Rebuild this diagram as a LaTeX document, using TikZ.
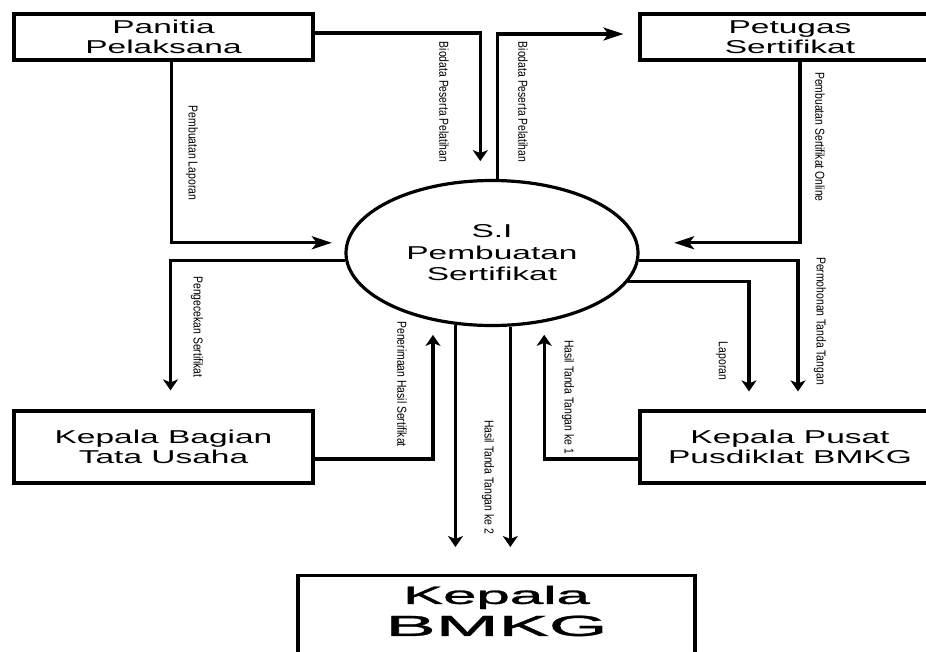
\documentclass[tikz,border=0pt]{standalone}
\usepackage{fontspec}
\setmainfont{Liberation Sans}
\usepackage{graphicx}
\usetikzlibrary{shapes.geometric, arrows.meta, calc}

\newcommand{\wide}[2][1.8]{\scalebox{#1}[1]{#2}}
\newcommand{\tall}[1]{\scalebox{1}[1.25]{#1}}

\tikzset{
  entity/.style={draw, rectangle, line width=3.2pt, minimum width=299pt, minimum height=46pt,
    inner sep=0pt, align=center, font=\fontsize{18.6}{20.5}\selectfont},
  proc/.style={draw, ellipse, line width=3.2pt, minimum width=292pt, minimum height=145pt,
    inner sep=0pt, align=center, font=\fontsize{18.6}{21.5}\selectfont},
  lbl/.style={rotate=-90, inner sep=0pt, font=\fontsize{10.4}{12}\selectfont},
  flow/.style={line width=3.2pt},
  vtip/.style={-{Stealth[length=11pt,width=15pt,inset=3pt]}},
  htip/.style={-{Stealth[length=20pt,width=13pt,inset=5pt]}}
}

\begin{document}
\begin{tikzpicture}[x=1pt, y=-1pt]
    \clip (0,0) rectangle (926,651);

    % Entitas
    \node[entity] (panitia) at (163.5,37) {\wide{Panitia}\\\wide{Pelaksana}};
    \node[entity, minimum width=300pt] (petugas) at (790,37) {\wide{Petugas}\\\wide{Sertifikat}};
    \node[entity, minimum height=72pt] (kabag) at (163.5,447) {\wide{Kepala Bagian}\\\wide{Tata Usaha}};
    \node[entity, minimum width=300pt, minimum height=72pt] (kapus) at (790,447) {\wide{Kepala Pusat}\\\wide{Pusdiklat BMKG}};
    \node[entity, minimum width=397pt, minimum height=110pt, anchor=north] (kbmkg) at (496.5,574) {};
    \node[inner sep=0pt, align=center, font=\fontsize{25}{32}\selectfont\addfontfeature{FakeBold=1}] (kbmkgtext) at (496.5,611)
        {\wide[2.4]{Kepala}\\{\fontsize{29}{32}\selectfont\wide[2.6]{BMKG}}};

    % Proses
    \node[proc] (si) at (492,253) {\wide{S.I}\\\wide{Pembuatan}\\\wide{Sertifikat}};

    % Aliran data
    \draw[flow, vtip, shorten >=18pt] ([yshift=4pt]panitia.east) -| (si.99.5);
    \draw[flow, htip, shorten >=15pt] (si.86) |- ([yshift=3pt]petugas.west);
    \draw[flow, htip, shorten >=14pt] ([xshift=8pt]panitia.south) |- (si.176);
    \draw[flow, htip, shorten >=36pt] ([xshift=10pt]petugas.south) |- (si.4);
    \draw[flow, vtip, shorten >=19pt] (si.183.6) -| ([xshift=7pt]kabag.north);
    \draw[flow, vtip, shorten >=14pt] ([yshift=-12pt]kabag.east) -| (si.229.3);
    \draw[flow, vtip, shorten >=18pt] (si.357.6) -| ([xshift=8pt]kapus.north);
    \draw[flow, vtip, shorten >=18pt] (si.348.7) -| ([xshift=-41pt]kapus.north);
    \draw[flow, vtip, shorten >=12.5pt] ([yshift=-12pt]kapus.west) -| (si.307.1);
    \draw[flow, vtip, shorten >=27pt] (si.243.4) -- (si.243.4 |- kbmkg.north);
    \draw[flow, vtip, shorten >=27pt] (si.284.1) -- (si.284.1 |- kbmkg.north);

    % Label aliran
    \node[lbl] (lbio1) at (444,102) {\tall{Biodata Peserta Pelatihan}};
    \node[lbl] (lbio2) at (523,102) {\tall{Biodata Peserta Pelatihan}};
    \node[lbl] (llap1) at (192,153) {\tall{Pembuatan Laporan}};
    \node[lbl] (lonline) at (820,137) {\tall{Pembuatan Sertifikat Online}};
    \node[lbl] (lcek) at (197,327) {\tall{Pengecekan Sertifikat}};
    \node[lbl] (lterima) at (402,384) {\tall{Penerimaan Hasil Sertifikat}};
    \node[lbl] (lmohon) at (820,321) {\tall{Permohonan Tanda Tangan}};
    \node[lbl] (llap2) at (722,361) {\tall{Laporan}};
    \node[lbl] (lttd1) at (568,397) {\tall{Hasil Tanda Tangan ke 1}};
    \node[lbl] (lttd2) at (488,477) {\tall{Hasil Tanda Tangan ke 2}};
\end{tikzpicture}
\end{document}
